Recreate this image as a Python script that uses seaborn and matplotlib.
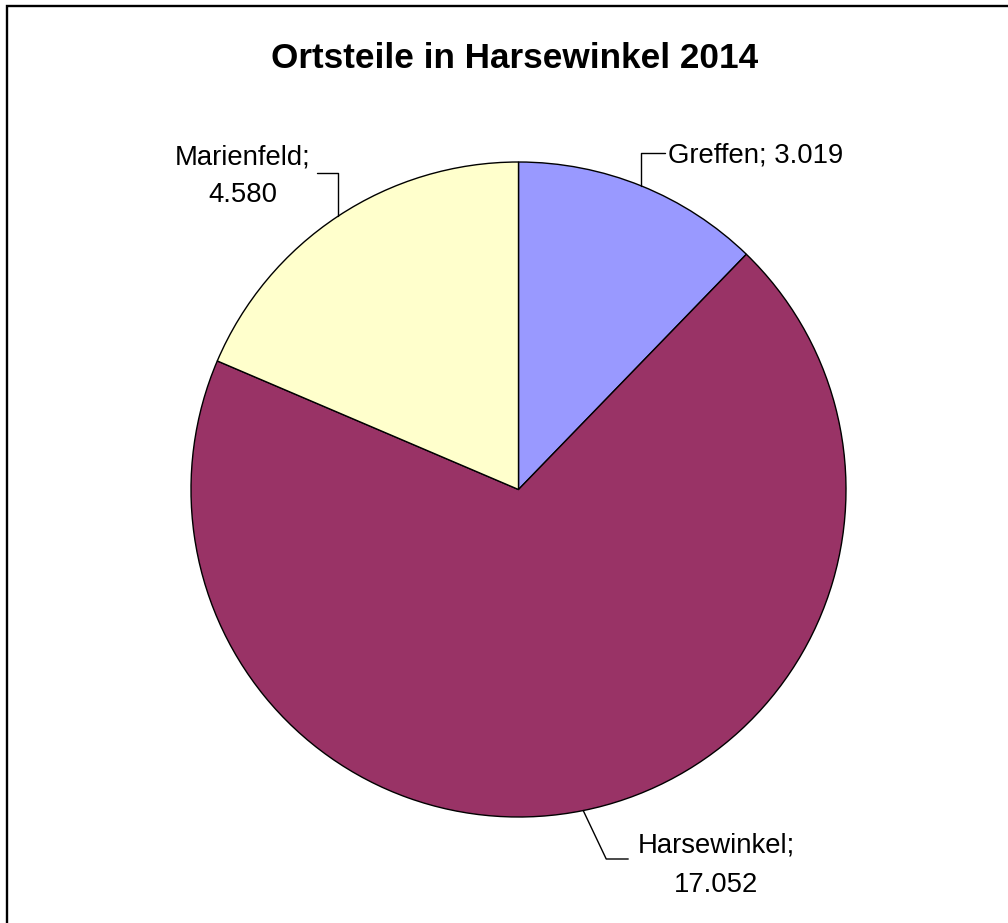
import numpy as np
import matplotlib
matplotlib.use("Agg")
import matplotlib.pyplot as plt
from matplotlib.patches import Rectangle
import seaborn as sns

# Data
categories = ["Greffen", "Harsewinkel", "Marienfeld"]
values = [3019, 17052, 4580]
value_labels = ["3.019", "17.052", "4.580"]
colors = ["#9999FF", "#993366", "#FFFFCC"]
title = "Ortsteile in Harsewinkel 2014"

sns.set_theme(style="white")
plt.rcParams["font.family"] = ["Liberation Sans", "DejaVu Sans"]
plt.rcParams["text.color"] = "black"

W, H = 1008, 923
fig = plt.figure(figsize=(W / 100, H / 100), dpi=100)
ax = fig.add_axes([0, 0, 1, 1])

def Y(py):
    return H - py

cx, cy, R = 518.5, 489.5, 327.5
wedges, _ = ax.pie(values, colors=colors, startangle=90, counterclock=False,
                   center=(cx, Y(cy)), radius=R,
                   wedgeprops=dict(edgecolor="black", linewidth=1.0))
ax.set_xlim(0, W)
ax.set_ylim(0, H)
ax.set_aspect("equal")
ax.axis("off")

# frame
ax.add_patch(Rectangle((7, Y(940)), 1010, 934, fill=False, edgecolor="black",
                       linewidth=1.7, clip_on=False))

ax.text(515, Y(68), title, ha="center", va="baseline", fontsize=25.3,
        fontweight="bold", color="black")

# anchor points at slice midpoints on the rim
total = sum(values)
cum = np.cumsum([0] + values)
mids = [(cum[i] + values[i] / 2) / total * 360 for i in range(len(values))]
anchors = []
for m in mids:
    a = np.deg2rad(m)
    anchors.append((cx + R * np.sin(a), cy - R * np.cos(a)))

fs = 19.8
lw = 1.0
tc = "black"
# Greffen
ax_, ay_ = anchors[0]
ax.plot([ax_, ax_, ax_ + 24], [Y(ay_), Y(153), Y(153)], color="black", lw=lw)
ax.text(ax_ + 27, Y(163), f"{categories[0]}; {value_labels[0]}", ha="left",
        va="baseline", fontsize=fs, color=tc)
# Harsewinkel
hx, hy = anchors[1]
ax.plot([hx, hx + 23, hx + 45], [Y(hy), Y(859), Y(859)], color="black", lw=lw)
ax.text(716, Y(852), f"{categories[1]};", ha="center", va="baseline", fontsize=fs, color=tc)
ax.text(716, Y(892), value_labels[1], ha="center", va="baseline", fontsize=fs, color=tc)
# Marienfeld
mx, my = anchors[2]
ax.plot([mx, mx, mx - 21], [Y(my), Y(173), Y(173)], color="black", lw=lw)
ax.text(243, Y(165), f"{categories[2]};", ha="center", va="baseline", fontsize=fs, color=tc)
ax.text(243, Y(202), value_labels[2], ha="center", va="baseline", fontsize=fs, color=tc)

fig.savefig("out.png", dpi=100, facecolor="white")
